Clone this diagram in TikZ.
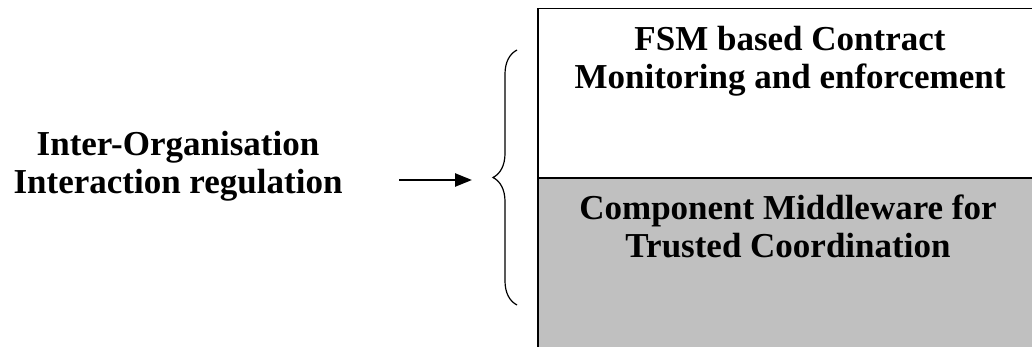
\documentclass[tikz,border=0pt]{standalone}
\usepackage{fontspec}
\setmainfont{Liberation Serif}
\usetikzlibrary{arrows.meta,decorations.pathreplacing}
\definecolor{layergray}{HTML}{C0C0C0}
\begin{document}
\begin{tikzpicture}[x=1pt,y=-1pt,
  label/.style={align=center,inner sep=0pt,font=\bfseries\fontsize{35}{38}\selectfont},
  layer/.style={draw=black,line width=1.5pt},
  pointer/.style={line width=2.5pt,-{Triangle[length=17pt,width=13pt]}},
  bracket/.style={line width=1.2pt,decorate,decoration={brace,amplitude=24pt}}]
  \useasboundingbox (0,0) rectangle (1032,347);
  % stacked layers (running off the right and bottom edges)
  \draw[layer,fill=layergray] (538,178) rectangle (1045,360);
  \draw[layer,fill=white] (538,8.7) rectangle (1045,178);
  \node[label] (top) at (790,61) {FSM based Contract\\Monitoring and enforcement};
  \node[label] (bottom) at (788,226.5) {Component Middleware for\\Trusted Coordination};
  % left-hand label, arrow and brace
  \node[label] (reg) at (178,166) {Inter-Organisation\\Interaction regulation};
  \coordinate (from) at (399,180);
  \coordinate (to) at (472,180);
  \draw[pointer] (from) -- (to);
  \coordinate (bbot) at (517,305);
  \coordinate (btop) at (517,50);
  \draw[bracket] (bbot) -- (btop);
\end{tikzpicture}
\end{document}
